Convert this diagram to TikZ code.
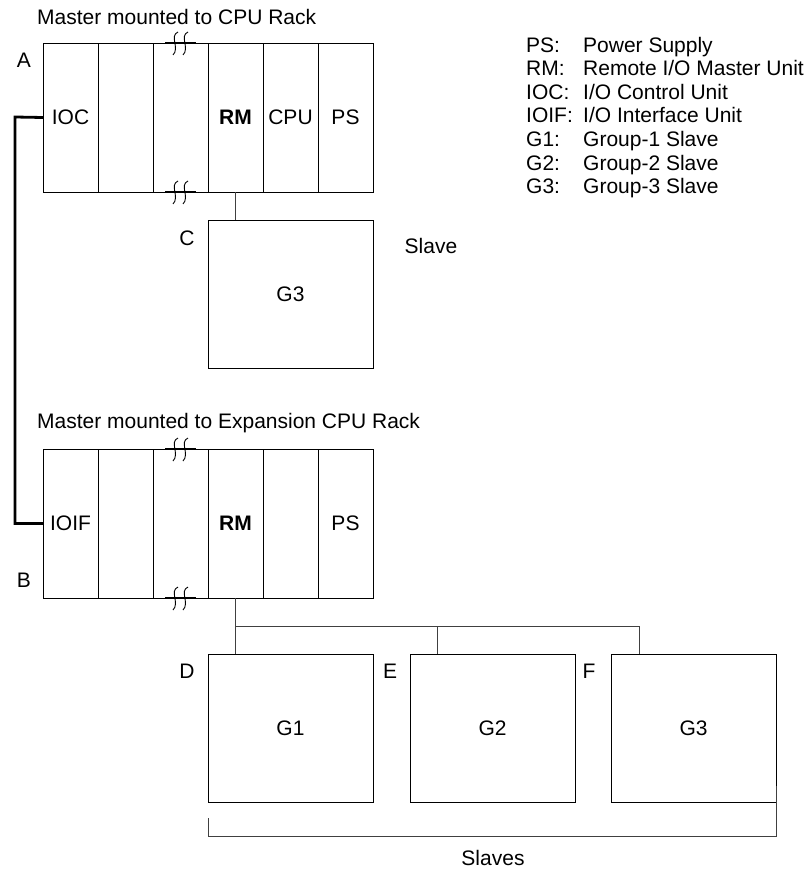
\documentclass[tikz,border=0pt]{standalone}
\usepackage{fontspec}
\setmainfont{Liberation Sans}
\usetikzlibrary{positioning}

\newcommand{\rackbreak}[2]{%
  \draw[line width=1.4pt] (#1-7,#2) -- (#1+24,#2);
  \draw[line width=0.9pt] (#1+6,#2-11) .. controls (#1-3,#2-7) and (#1+8,#2+5) .. (#1+1,#2+12);
  \draw[line width=0.9pt] (#1+16,#2-11) .. controls (#1+7,#2-7) and (#1+18,#2+5) .. (#1+11,#2+12);
}

\begin{document}
\begin{tikzpicture}[
    x=1pt, y=-1pt,
    font=\fontsize{21}{24}\selectfont,
    node distance=0pt,
    slot/.style={rectangle, draw, line width=0.9pt, minimum width=55pt, minimum height=149pt, inner sep=0pt, outer sep=0pt},
    slavebox/.style={rectangle, draw, line width=0.8pt, minimum width=165pt, minimum height=148pt, inner sep=0pt, outer sep=0pt},
    tag/.style={inner sep=0pt},
    bus/.style={line width=0.6pt, draw=black!75},
    link/.style={line width=2.8pt}
]
    \useasboundingbox (0,0) rectangle (811,872);

    % CPU rack
    \node[tag, anchor=west] (title1) at (37,17) {Master mounted to CPU Rack};
    \node[slot, anchor=north west] (ioc) at (43,43) {IOC};
    \node[slot, right=of ioc] (emptya) {};
    \node[slot, right=of emptya] (gapa) {};
    \node[slot, right=of gapa] (rma) {\textbf{RM}};
    \node[slot, right=of rma] (cpu) {CPU};
    \node[slot, right=of cpu] (psa) {PS};
    \rackbreak{172}{43}
    \rackbreak{172}{192}
    \node[tag] (lbla) at (24,60) {A};

    % slave on CPU rack
    \node[slavebox, anchor=north west] (slvc) at (208,220) {G3};
    \node[tag] (lblc) at (187,238) {C};
    \node[tag] (slave) at (431,246) {Slave};
    \draw[bus] (rma.south) -- (rma.south |- slvc.north);

    % expansion CPU rack
    \node[tag, anchor=west] (title2) at (37,423) {Master mounted to Expansion CPU Rack};
    \node[slot, anchor=north west] (ioif) at (43,449) {IOIF};
    \node[slot, right=of ioif] (emptyb) {};
    \node[slot, right=of emptyb] (gapb) {};
    \node[slot, right=of gapb] (rmb) {\textbf{RM}};
    \node[slot, right=of rmb] (spare) {};
    \node[slot, right=of spare] (psb) {PS};
    \rackbreak{172}{449}
    \rackbreak{172}{598}
    \node[tag] (lblb) at (24,580) {B};

    % IOC to IOIF cable
    \coordinate (cabtop) at (15,117);
    \draw[link] (ioc.west) -- (cabtop) -- (cabtop |- ioif.west) -- (ioif.west);

    % slaves on expansion rack
    \node[slavebox, anchor=north west] (slvd) at (208,654) {G1};
    \node[slavebox, anchor=north west] (slve) at (410,654) {G2};
    \node[slavebox, anchor=north west] (slvf) at (611,654) {G3};
    \node[tag] (lbld) at (187,671) {D};
    \node[tag] (lble) at (390,671) {E};
    \node[tag] (lblf) at (589,671) {F};

    \coordinate (busl) at (rmb.south |- 0,626);
    \coordinate (busr) at (639,626);
    \draw[bus] (rmb.south) -- (busl) -- (busl |- slvd.north);
    \draw[bus] (busl) -- (busr) -- (busr |- slvf.north);
    \draw[bus] (437,626) -- (437,654);

    % bracket
    \draw[bus] (slvd.south west) ++(0,16) -- ++(0,18) -| ([yshift=16pt]slvf.south east);
    \node[tag] (slaves) at (493,858) {Slaves};

    % legend
    \foreach \k/\d [count=\i from 0] in {PS:/{Power Supply}, RM:/{Remote I/O Master Unit}, IOC:/{I/O Control Unit}, IOIF:/{I/O Interface Unit}, G1:/{Group-1 Slave}, G2:/{Group-2 Slave}, G3:/{Group-3 Slave}}
    {
        \node[tag, anchor=base west] (key\i) at (526,52.5+23.5*\i) {\k};
        \node[tag, anchor=base west] (desc\i) at (583,52.5+23.5*\i) {\d};
    }
\end{tikzpicture}
\end{document}
